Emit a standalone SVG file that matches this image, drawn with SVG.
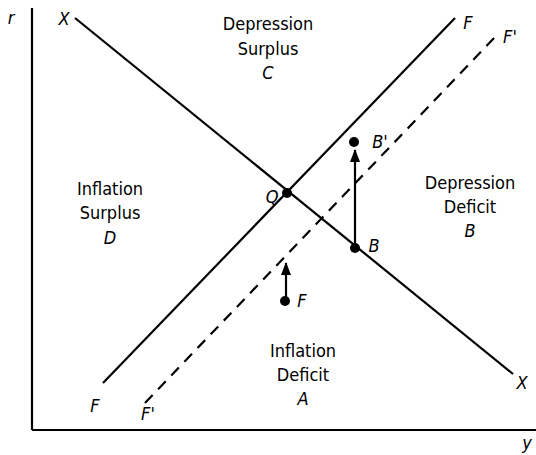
<svg xmlns="http://www.w3.org/2000/svg" width="536" height="455" viewBox="0 0 536 455">
<style>
.t{font-family:"DejaVu Sans Condensed","DejaVu Sans",sans-serif;font-size:18px;fill:#000;text-anchor:middle}
.i{font-style:italic}
.ln{stroke:#000;stroke-width:2.2;fill:none}
.dash{stroke-dasharray:11,8}
</style>
<defs>
<marker id="ah" markerWidth="13" markerHeight="10" refX="12" refY="5" orient="auto" markerUnits="userSpaceOnUse" viewBox="0 0 13 10">
<path d="M0,0 L13,5 L0,10 Z" fill="#000"/>
</marker>
</defs>
<rect width="536" height="455" fill="#fff"/>
<g id="axes">
<line class="ln" x1="32" y1="8" x2="32" y2="430"/>
<line class="ln" x1="32" y1="430" x2="536" y2="430"/>
<text class="t i" x="11" y="24">r</text>
<text class="t i" x="527" y="449">y</text>
</g>
<g id="connectors">
<line id="XX" class="ln" x1="75" y1="18" x2="513" y2="374"/>
<line id="FF" class="ln" x1="103" y1="383" x2="455" y2="18"/>
<line id="FpFp" class="ln dash" x1="145" y1="403" x2="497" y2="35"/>
<line class="ln" x1="355" y1="248" x2="355" y2="150" marker-end="url(#ah)"/>
<line class="ln" x1="286" y1="300" x2="286" y2="263" marker-end="url(#ah)"/>
</g>
<g id="labels">
<text class="t i" x="64" y="25">X</text>
<text class="t i" x="522" y="389">X</text>
<text class="t i" x="468" y="29">F</text>
<text class="t i" x="510" y="43">F'</text>
<text class="t i" x="95" y="412">F</text>
<text class="t i" x="148" y="420">F'</text>
</g>
<g id="C">
<text class="t" x="268" y="30">Depression</text>
<text class="t" x="268" y="55">Surplus</text>
<text class="t i" x="268" y="79">C</text>
</g>
<g id="D">
<text class="t" x="110" y="195">Inflation</text>
<text class="t" x="110" y="219">Surplus</text>
<text class="t i" x="110" y="244">D</text>
</g>
<g id="B">
<text class="t" x="470" y="189">Depression</text>
<text class="t" x="470" y="213">Deficit</text>
<text class="t i" x="470" y="237">B</text>
</g>
<g id="A">
<text class="t" x="303" y="357">Inflation</text>
<text class="t" x="303" y="381">Deficit</text>
<text class="t i" x="303" y="405">A</text>
</g>
<g id="Q">
<circle cx="287" cy="193" r="5"/>
<text class="t i" x="272" y="203">Q</text>
</g>
<g id="Bpt">
<circle cx="355" cy="248" r="5"/>
<text class="t i" x="374" y="252">B</text>
</g>
<g id="Bprime">
<circle cx="354" cy="142" r="5"/>
<text class="t i" x="380" y="148">B'</text>
</g>
<g id="Fpt">
<circle cx="285" cy="301" r="5"/>
<text class="t i" x="302" y="307">F</text>
</g>
</svg>
